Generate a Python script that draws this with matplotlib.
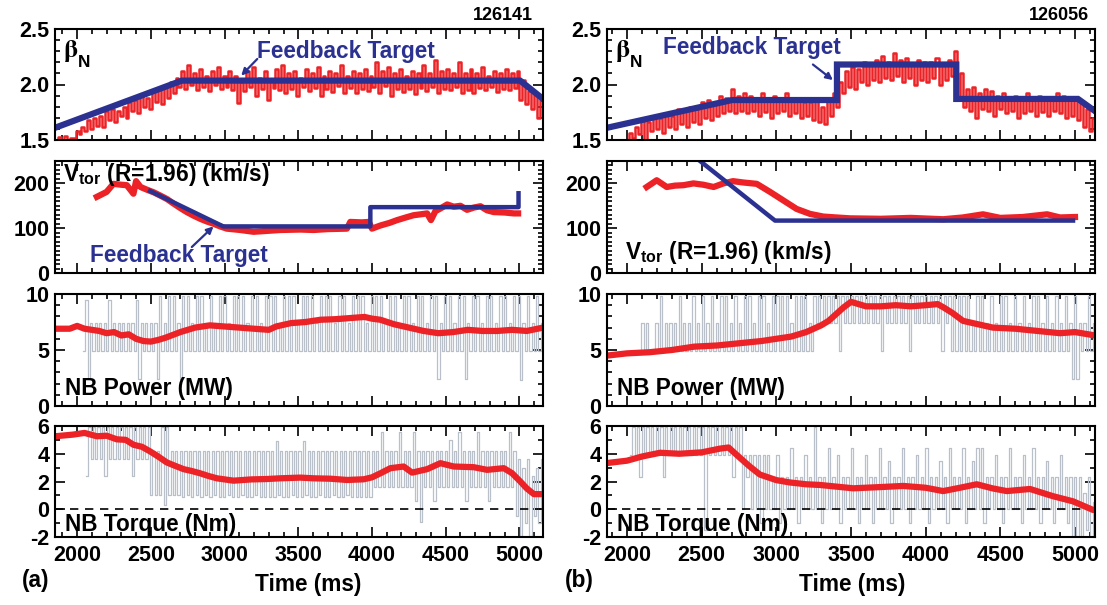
import numpy as np
import matplotlib
matplotlib.use("Agg")
import matplotlib.pyplot as plt
from matplotlib.ticker import MultipleLocator, FormatStrFormatter

plt.rcParams['font.family'] = ['Liberation Sans', 'DejaVu Sans']
plt.rcParams['font.weight'] = 'bold'
plt.rcParams['mathtext.fontset'] = 'stix'

RED = '#ec2227'
BLUE = '#2b3190'
GRAY = '#b9c0ca'
FS = 15.5      # tick labels
FT = 16.3      # panel texts

# ---------------- data: shot 126141 (a) ----------------
xlim_a = (1850, 5160)
# beta_N: per 40 ms bin, low and high excursion of the raw signal
bn_span_a = (1850, 5160)
bn_lo_a = [1.49, 1.48, 1.50, 1.52, 1.55, 1.58, 1.60, 1.63, 1.62, 1.68,
           1.66, 1.72, 1.70, 1.76, 1.74, 1.80, 1.78, 1.84, 1.82, 1.88,
           1.92, 1.98, 1.96, 2.00, 1.95, 1.98, 1.94, 2.00, 1.96, 1.98,
           1.95, 1.83, 1.94, 1.98, 1.90, 1.96, 1.86, 1.97, 1.95, 1.92,
           1.96, 1.90, 1.98, 1.94, 1.97, 1.90, 1.96, 1.93, 1.99, 1.92,
           1.97, 1.92, 1.96, 1.94, 1.98, 1.92, 1.99, 1.90, 1.96, 1.93,
           1.96, 1.91, 1.97, 1.94, 1.98, 1.92, 1.96, 1.95, 1.98, 1.92,
           1.95, 1.92, 1.97, 1.95, 1.98, 1.93, 1.96, 1.95, 1.97, 1.86,
           1.82, 1.78, 1.70]
bn_hi_a = [1.53, 1.54, 1.52, 1.58, 1.62, 1.68, 1.70, 1.72, 1.76, 1.78,
           1.76, 1.80, 1.84, 1.86, 1.90, 1.88, 1.94, 1.96, 2.00, 2.02,
           2.06, 2.12, 2.18, 2.10, 2.14, 2.08, 2.12, 2.16, 2.08, 2.12,
           2.08, 2.02, 2.12, 2.16, 2.06, 2.12, 2.04, 2.14, 2.18, 2.10,
           2.12, 2.06, 2.14, 2.10, 2.16, 2.08, 2.12, 2.10, 2.18, 2.08,
           2.12, 2.10, 2.14, 2.08, 2.20, 2.12, 2.16, 2.10, 2.14, 2.08,
           2.12, 2.10, 2.18, 2.10, 2.22, 2.12, 2.14, 2.10, 2.20, 2.10,
           2.14, 2.10, 2.16, 2.08, 2.12, 2.10, 2.14, 2.10, 2.12, 2.04,
           1.94, 1.92, 1.86]
bn_tgt_t_a = [1850, 2710, 5005, 5160]
bn_tgt_a = [1.61, 2.035, 2.035, 1.87]

vt_t_a = [2134, 2200, 2246, 2300, 2337, 2382, 2400, 2430, 2473, 2520, 2563, 2610, 2654, 2700,
          2744, 2790, 2835, 2880, 2925, 2970, 3016, 3107, 3197, 3288, 3378, 3514, 3604, 3700,
          3830, 3853, 3930, 3978, 4000, 4057, 4120, 4170, 4230, 4283, 4330, 4374, 4400, 4430,
          4464, 4510, 4555, 4600, 4645, 4690, 4736, 4780, 4826, 4900, 4962, 4991]
vt_a = [170, 181, 199, 197, 196, 177, 205, 192, 186, 180, 173, 165, 155, 145, 136, 128, 121,
        115, 110, 104, 99, 96, 92, 94, 96, 97, 96, 98, 99, 114, 113, 114, 99, 106, 112, 118,
        124, 129, 131, 133, 118, 138, 144, 153, 148, 150, 141, 146, 149, 140, 136, 135, 133, 133]
vt_tgt_t_a = [2495, 2991, 3989, 3989, 4994, 4994]
vt_tgt_a = [183, 104, 104, 147, 147, 178]

pw_t_a = [1850, 1950, 2000, 2050, 2150, 2200, 2250, 2300, 2350, 2400, 2450, 2500, 2550, 2600,
          2700, 2800, 2900, 3000, 3100, 3200, 3300, 3350, 3450, 3550, 3650, 3750, 3850, 3950,
          4000, 4057, 4150, 4250, 4350, 4450, 4550, 4650, 4750, 4850, 4950, 5050, 5160]
pw_a = [6.9, 6.9, 7.15, 6.9, 6.7, 6.5, 6.6, 6.3, 6.4, 6.0, 5.8, 5.75, 5.9, 6.1, 6.6, 7.0,
        7.2, 7.1, 7.0, 6.9, 6.8, 7.1, 7.4, 7.5, 7.7, 7.75, 7.85, 7.95, 7.8, 7.7, 7.3, 7.0,
        6.7, 6.5, 6.6, 6.8, 6.7, 6.7, 6.8, 6.7, 7.0]
# raw NB power: per bin, lowest and highest beam level reached
pw_span_a = (2040, 5160)
pw_hi_a = [9.5, 7.4, 7.4, 7.4, 7.4, 9.5, 7.4, 7.4, 7.4, 7.4,
           7.4, 9.5, 7.4, 7.4, 7.4, 7.4, 9.8, 7.4, 9.8, 9.8,
           7.4, 9.8, 9.8, 7.4, 9.8, 9.8, 7.4, 9.8, 7.4, 9.8,
           9.8, 7.4, 9.8, 9.8, 9.8, 7.4, 9.8, 9.8, 7.4, 9.8,
           9.8, 9.8, 7.4, 9.8, 9.8, 9.8, 7.4, 9.8, 9.8, 9.8,
           7.4, 9.8, 9.8, 9.8, 7.4, 9.8, 9.8, 7.4, 9.8, 9.8,
           9.8, 7.4, 9.8, 9.8, 9.8, 7.4, 9.8, 9.8, 7.4, 9.8,
           9.8, 7.4, 9.8, 9.8, 7.4, 9.8, 9.8, 7.4, 9.8, 9.8,
           7.4, 9.8, 9.8, 7.4, 9.8, 9.8, 7.4, 9.8, 9.8, 7.4,
           9.8, 9.8, 7.4, 9.8, 9.8, 7.4, 9.8, 7.4, 9.8, 7.4]
pw_lo_a = [4.9, 2.4, 4.9, 4.9, 4.9, 4.9, 4.9, 4.9, 4.9, 4.9,
           4.9, 4.9, 2.4, 4.9, 4.9, 4.9, 2.4, 4.9, 4.9, 4.9,
           4.9, 2.4, 4.9, 4.9, 4.9, 4.9, 4.9, 4.9, 4.9, 4.9,
           4.9, 4.9, 4.9, 4.9, 4.9, 4.9, 4.9, 4.9, 4.9, 4.9,
           4.9, 4.9, 4.9, 4.9, 4.9, 4.9, 4.9, 4.9, 4.9, 4.9,
           4.9, 4.9, 4.9, 4.9, 4.9, 4.9, 4.9, 4.9, 4.9, 4.9,
           4.9, 4.9, 4.9, 4.9, 4.9, 4.9, 4.9, 4.9, 4.9, 4.9,
           4.9, 4.9, 4.9, 4.9, 4.9, 4.9, 4.9, 2.4, 4.9, 4.9,
           4.9, 4.9, 4.9, 2.4, 4.9, 4.9, 4.9, 4.9, 4.9, 4.9,
           4.9, 4.9, 4.9, 4.9, 4.9, 2.3, 4.9, 4.9, 4.9, 4.9]

tq_t_a = [1851, 1973, 2050, 2134, 2200, 2269, 2330, 2382, 2440, 2495, 2550, 2609, 2660, 2722,
          2780, 2835, 2890, 2948, 3061, 3180, 3288, 3378, 3514, 3604, 3720, 3831, 3944, 4000,
          4057, 4125, 4215, 4272, 4374, 4464, 4555, 4691, 4781, 4894, 4950, 5007, 5050, 5098, 5160]
tq_a = [5.26, 5.38, 5.5, 5.26, 5.3, 5.04, 5.0, 4.65, 4.5, 4.17, 3.8, 3.37, 3.15, 2.89,
        2.75, 2.59, 2.4, 2.23, 2.06, 2.15, 2.18, 2.23, 2.28, 2.23, 2.2, 2.11, 2.16, 2.3,
        2.59, 2.96, 3.08, 2.64, 2.89, 3.32, 3.08, 3.03, 2.84, 2.96, 2.6, 1.99, 1.5, 1.09, 1.09]
tq_span_a = (2060, 5160)
tq_hi_a = [5.9, 5.9, 5.9, 5.9, 5.9, 5.9, 5.9, 5.9, 5.9, 5.9,
           5.9, 5.9, 5.9, 5.9, 4.2, 4.2, 5.9, 5.9, 4.2, 4.2,
           4.2, 4.2, 4.2, 4.2, 4.2, 4.2, 4.2, 4.2, 4.2, 4.2,
           4.2, 4.2, 4.2, 4.2, 4.2, 4.2, 4.2, 4.2, 4.2, 4.2,
           4.2, 4.9, 4.2, 4.2, 4.2, 4.2, 4.2, 4.9, 4.2, 4.2,
           4.2, 4.2, 4.2, 4.2, 4.2, 4.2, 4.2, 4.2, 4.2, 4.2,
           4.2, 4.2, 4.2, 4.2, 5.6, 4.2, 4.2, 4.2, 5.6, 4.2,
           4.2, 5.6, 4.2, 4.2, 4.2, 4.2, 4.2, 4.2, 4.2, 5.0,
           4.2, 5.6, 4.2, 4.2, 4.2, 5.6, 4.2, 4.2, 4.2, 4.2,
           4.2, 4.2, 5.6, 4.2, 3.6, 3.0, 3.6, 2.4, 3.0, 3.6]
tq_lo_a = [2.4, 3.6, 3.6, 3.6, 2.4, 3.6, 3.6, 3.6, 3.6, 3.6,
           2.4, 3.6, 3.6, 3.6, 1.0, 1.0, 1.0, 0.3, 1.0, 1.0,
           1.0, 0.9, 1.0, 0.9, 1.0, 0.9, 1.0, 0.9, 1.0, 0.9,
           0.9, 1.0, 0.9, 0.9, 1.0, 0.9, 0.9, 1.0, 0.9, 0.9,
           0.9, 0.9, 1.0, 0.9, 0.9, 1.0, 0.9, 0.9, 1.0, 0.9,
           0.9, 1.0, 0.9, 0.9, 1.0, 0.9, 0.9, 1.0, 0.9, 0.9,
           0.9, 0.9, 0.9, 1.6, 1.6, 1.6, 1.6, 1.6, 1.6, 1.6,
           1.6, 1.6, 0.6, -0.9, 1.6, 1.6, 0.6, 1.6, 1.6, 1.6,
           1.6, 1.6, 1.6, 0.6, 1.6, 1.6, 1.6, 1.6, 0.6, 1.6,
           1.6, 1.6, 1.6, 1.6, -0.5, -1.9, -1.0, -1.9, -0.5, -1.0]

# ---------------- data: shot 126056 (b) ----------------
xlim_b = (1866, 5134)
bn_span_b = (1990, 5134)
bn_lo_b = [1.50, 1.52, 1.55, 1.50, 1.58, 1.60, 1.56, 1.62, 1.60, 1.64,
           1.62, 1.66, 1.64, 1.70, 1.68, 1.72, 1.74, 1.76, 1.74, 1.76,
           1.74, 1.76, 1.72, 1.75, 1.70, 1.74, 1.76, 1.72, 1.74, 1.70,
           1.72, 1.68, 1.66, 1.64, 1.72, 1.80, 1.92, 1.98, 1.96, 2.02,
           2.00, 2.04, 2.02, 2.06, 2.04, 2.08, 2.02, 2.06, 2.00, 2.04,
           2.02, 2.06, 2.00, 2.04, 2.08, 1.88, 1.80, 1.76, 1.70, 1.78,
           1.76, 1.72, 1.78, 1.74, 1.76, 1.70, 1.74, 1.76, 1.72, 1.75,
           1.72, 1.76, 1.74, 1.70, 1.72, 1.68, 1.62, 1.58]
bn_hi_b = [1.56, 1.62, 1.68, 1.66, 1.72, 1.70, 1.74, 1.72, 1.78, 1.76,
           1.80, 1.78, 1.84, 1.86, 1.82, 1.90, 1.88, 1.96, 1.90, 1.92,
           1.90, 1.88, 1.92, 1.86, 1.90, 1.88, 1.92, 1.86, 1.88, 1.84,
           1.84, 1.86, 1.80, 1.86, 1.92, 2.02, 2.12, 2.16, 2.14, 2.20,
           2.18, 2.22, 2.26, 2.20, 2.28, 2.22, 2.24, 2.18, 2.22, 2.20,
           2.20, 2.24, 2.18, 2.22, 2.30, 2.10, 1.96, 1.98, 1.92, 1.96,
           1.94, 1.90, 1.92, 1.88, 1.90, 1.86, 1.92, 1.88, 1.90, 1.86,
           1.88, 1.92, 1.90, 1.86, 1.88, 1.84, 1.78, 1.70]
bn_tgt_t_b = [1866, 2703, 3406, 3406, 4205, 4205, 5020, 5134]
bn_tgt_b = [1.61, 1.86, 1.86, 2.18, 2.18, 1.87, 1.87, 1.76]

vt_t_b = [2132, 2199, 2266, 2320, 2378, 2445, 2512, 2580, 2646, 2710, 2779, 2869, 2958, 3047,
          3136, 3225, 3314, 3400, 3493, 3700, 3900, 4117, 4250, 4384, 4500, 4650, 4813, 4900, 5000]
vt_b = [192, 207, 192, 195, 196, 200, 197, 192, 200, 205, 202, 199, 181, 162, 143, 132, 126,
        124, 122, 121, 123, 120, 124, 131, 123, 125, 131, 124, 125]
vt_tgt_t_b = [2489, 2991, 4987]
vt_tgt_b = [250, 117, 117]

pw_t_b = [1866, 2000, 2150, 2300, 2450, 2600, 2750, 2900, 3000, 3100, 3200, 3300, 3350, 3400,
          3450, 3500, 3600, 3700, 3800, 3900, 4000, 4080, 4120, 4180, 4250, 4350, 4450, 4600,
          4750, 4900, 5000, 5134]
pw_b = [4.5, 4.7, 4.8, 5.0, 5.3, 5.4, 5.6, 5.8, 6.0, 6.2, 6.6, 7.2, 7.6, 8.2, 8.8, 9.3,
        8.9, 8.9, 9.0, 8.9, 9.0, 9.1, 8.8, 8.3, 7.6, 7.3, 7.0, 6.9, 6.7, 6.5, 6.6, 6.3]
pw_span_b = (2080, 5134)
pw_hi_b = [7.4, 7.4, 4.9, 7.4, 9.8, 7.4, 7.4, 7.4, 9.8, 7.4,
           7.4, 9.8, 7.4, 9.8, 7.4, 9.8, 7.4, 9.8, 9.8, 7.4,
           9.8, 7.4, 9.8, 9.8, 7.4, 9.8, 9.8, 7.4, 9.8, 9.8,
           9.8, 9.8, 7.4, 9.8, 9.8, 9.8, 7.4, 9.8, 9.8, 9.8,
           9.8, 9.8, 9.8, 9.8, 9.8, 9.8, 9.8, 9.8, 9.8, 9.8,
           9.8, 9.8, 9.8, 9.8, 9.8, 9.8, 9.8, 9.8, 9.8, 9.8,
           9.8, 9.8, 9.8, 9.8, 9.8, 9.8, 9.8, 9.8, 9.8, 9.8,
           9.8, 7.4, 9.8, 9.8, 7.4, 9.8, 7.4, 9.8, 9.8, 7.4,
           9.8, 7.4, 9.8, 7.4, 9.8, 9.8, 7.4, 9.8, 7.4, 9.8,
           7.4, 9.8, 7.4, 9.8, 7.4, 7.4, 9.8, 7.4]
pw_lo_b = [4.9, 4.9, 4.9, 4.9, 4.9, 4.9, 4.9, 4.9, 4.9, 4.9,
           4.9, 4.9, 4.9, 4.9, 4.9, 4.9, 4.9, 4.9, 4.9, 4.9,
           4.9, 4.9, 4.9, 4.9, 4.9, 4.9, 4.9, 4.9, 4.9, 4.9,
           4.9, 4.9, 4.9, 4.9, 4.9, 4.9, 4.9, 4.9, 7.4, 7.4,
           7.4, 7.4, 7.4, 4.9, 7.4, 7.4, 7.4, 7.4, 7.4, 7.4,
           7.4, 7.4, 4.9, 7.4, 7.4, 7.4, 7.4, 7.4, 4.9, 7.4,
           7.4, 7.4, 7.4, 7.4, 7.4, 4.9, 7.4, 4.9, 4.9, 4.9,
           4.9, 4.9, 4.9, 4.9, 4.9, 4.9, 4.9, 4.9, 4.9, 4.9,
           4.9, 4.9, 4.9, 4.9, 4.9, 4.9, 4.9, 4.9, 4.9, 4.9,
           4.9, 4.9, 4.9, 2.4, 2.4, 4.9, 4.9, 4.9]

tq_t_b = [1866, 2000, 2100, 2221, 2350, 2500, 2623, 2680, 2757, 2820, 2890, 3000, 3091, 3200,
          3292, 3515, 3700, 3850, 4000, 4117, 4230, 4342, 4450, 4543, 4699, 4853, 4987, 5121, 5134]
tq_b = [3.33, 3.5, 3.8, 4.07, 4.0, 4.1, 4.37, 4.45, 3.7, 3.1, 2.5, 2.1, 1.93, 1.8,
        1.75, 1.51, 1.6, 1.68, 1.55, 1.31, 1.55, 1.8, 1.5, 1.31, 1.46, 0.94, 0.57, -0.05, -0.05]
tq_span_b = (2020, 5134)
tq_hi_b = [5.9, 5.9, 5.9, 5.9, 5.9, 5.9, 5.9, 5.9, 5.9, 5.9,
           5.9, 5.9, 5.9, 5.9, 5.9, 5.9, 5.9, 5.9, 5.9, 5.9,
           5.9, 5.9, 5.9, 5.9, 3.9, 3.9, 3.9, 3.9, 3.9, 3.9,
           2.3, 3.9, 2.3, 2.3, 4.4, 2.3, 2.3, 3.9, 2.3, 5.9,
           2.3, 2.3, 4.4, 2.3, 3.9, 2.3, 2.3, 4.4, 2.3, 2.3,
           3.9, 2.3, 2.3, 4.4, 2.3, 3.5, 2.3, 2.3, 4.4, 2.3,
           2.3, 3.9, 2.3, 4.4, 2.3, 2.3, 3.5, 2.3, 4.4, 2.3,
           2.3, 4.4, 2.3, 3.5, 4.4, 4.4, 2.3, 2.3, 3.9, 2.3,
           2.3, 4.4, 2.3, 2.3, 3.9, 2.3, 4.4, 2.3, 2.3, 3.5,
           2.3, 2.3, 3.9, 2.3, 2.3, 2.3, 2.3, 1.2, 2.3, 0.5]
tq_lo_b = [3.9, 3.9, 2.3, 3.9, 3.9, 3.9, 3.9, 2.3, 3.9, 3.9,
           3.9, 3.9, 3.9, 3.9, 3.9, 3.9, -1.5, 3.9, 3.9, 3.9,
           3.9, 3.9, 2.3, 3.9, 0.0, 2.3, 0.0, 0.0, -1.0, 0.0,
           0.0, 0.0, -1.0, 0.0, 0.0, 0.0, -1.0, 0.0, 0.0, 0.0,
           0.0, -1.0, 0.0, 0.0, 0.0, -1.0, 0.0, 0.0, 0.0, -1.0,
           0.0, 0.0, -1.0, 0.0, 0.0, 0.0, -1.0, 0.0, 0.0, 0.0,
           -1.0, 0.0, 0.0, 0.0, -1.0, 0.0, 0.0, 0.0, -1.0, 0.0,
           0.0, 0.0, -1.0, 0.0, 0.0, 0.0, -1.0, 0.0, 0.0, 0.0,
           -1.0, 0.0, 0.0, 0.0, -1.0, 0.0, 0.0, 0.0, -1.0, 0.0,
           0.0, -1.0, 0.0, 0.0, -1.0, -2.0, -2.0, -2.0, -1.5, -2.0]


def zigzag(span, hi, lo):
    # trace each bin through its low and high level, like the raw square-wave signal
    edges = np.linspace(span[0], span[1], len(hi) + 1)
    t, y = [], []
    for k in range(len(hi)):
        a, b = edges[k], edges[k + 1]
        m = 0.5 * (a + b)
        t += [a, m, m, b]
        y += [lo[k], lo[k], hi[k], hi[k]]
    return t, y


def style_axis(ax, xlim, ylim, ymaj, ymin, fmt, bottom):
    ax.set_xlim(xlim)
    ax.set_ylim(ylim)
    ax.xaxis.set_major_locator(MultipleLocator(500))
    ax.xaxis.set_minor_locator(MultipleLocator(100))
    ax.yaxis.set_major_locator(MultipleLocator(ymaj))
    ax.yaxis.set_minor_locator(MultipleLocator(ymin))
    ax.yaxis.set_major_formatter(FormatStrFormatter(fmt))
    ax.tick_params(which='both', direction='in', top=True, right=True, width=1.2,
                   labelsize=FS)
    ax.tick_params(which='major', length=7, pad=4)
    ax.tick_params(which='minor', length=3.5)
    ax.tick_params(axis='x', labelbottom=bottom, pad=6)
    for s in ax.spines.values():
        s.set_linewidth(1.5)


fig = plt.figure(figsize=(11.07, 6.05), dpi=100)
rows_px = [(29, 140), (161, 273), (294, 406), (426, 537)]
cols_px = [(55, 543), (607, 1095)]


def make_ax(r, c):
    t, b = rows_px[r]
    l, rr = cols_px[c]
    return fig.add_axes([l / 1107, 1 - b / 605, (rr - l) / 1107, (b - t) / 605])


panels = [
    dict(xlim=xlim_a, bn_s=bn_span_a, bn_hi=bn_hi_a, bn_lo=bn_lo_a, bn_tt=bn_tgt_t_a,
         bn_tg=bn_tgt_a, vt_t=vt_t_a, vt=vt_a, vt_tt=vt_tgt_t_a, vt_tg=vt_tgt_a,
         pw_t=pw_t_a, pw=pw_a, pw_s=pw_span_a, pw_hi=pw_hi_a, pw_lo=pw_lo_a,
         tq_t=tq_t_a, tq=tq_a, tq_s=tq_span_a, tq_hi=tq_hi_a, tq_lo=tq_lo_a),
    dict(xlim=xlim_b, bn_s=bn_span_b, bn_hi=bn_hi_b, bn_lo=bn_lo_b, bn_tt=bn_tgt_t_b,
         bn_tg=bn_tgt_b, vt_t=vt_t_b, vt=vt_b, vt_tt=vt_tgt_t_b, vt_tg=vt_tgt_b,
         pw_t=pw_t_b, pw=pw_b, pw_s=pw_span_b, pw_hi=pw_hi_b, pw_lo=pw_lo_b,
         tq_t=tq_t_b, tq=tq_b, tq_s=tq_span_b, tq_hi=tq_hi_b, tq_lo=tq_lo_b),
]

axes = {}
for c, p in enumerate(panels):
    # beta_N
    ax = make_ax(0, c)
    ax.plot(*zigzag(p['bn_s'], p['bn_hi'], p['bn_lo']), color=RED, lw=1.8)
    ax.plot(p['bn_tt'], p['bn_tg'], color=BLUE, lw=4.5, solid_joinstyle='miter')
    style_axis(ax, p['xlim'], (1.5, 2.5), 0.5, 0.1, '%.1f', False)
    ax.text(0.016, 0.80, r'$\mathrm{\beta}$', transform=ax.transAxes, fontsize=FT + 2,
            ha='left', va='center')
    ax.text(0.046, 0.70, 'N', transform=ax.transAxes, fontsize=FT - 4, ha='left', va='center')
    axes[(0, c)] = ax

    # toroidal rotation
    ax = make_ax(1, c)
    ax.plot(p['vt_t'], p['vt'], color=RED, lw=4.5)
    ax.plot(p['vt_tt'], p['vt_tg'], color=BLUE, lw=3.2)
    style_axis(ax, p['xlim'], (0, 250), 100, 10, '%d', False)
    axes[(1, c)] = ax

    # NB power
    ax = make_ax(2, c)
    ax.plot(*zigzag(p['pw_s'], p['pw_hi'], p['pw_lo']), color=GRAY, lw=0.9)
    ax.plot(p['pw_t'], p['pw'], color=RED, lw=4.5)
    style_axis(ax, p['xlim'], (0, 10), 5, 1, '%d', False)
    ax.text(0.02, 0.16, 'NB Power (MW)', transform=ax.transAxes, fontsize=FT,
            ha='left', va='center')
    axes[(2, c)] = ax

    # NB torque
    ax = make_ax(3, c)
    ax.plot(*zigzag(p['tq_s'], p['tq_hi'], p['tq_lo']), color=GRAY, lw=0.9)
    ax.axhline(0, color='black', lw=1.2, ls=(0, (5, 4)))
    ax.plot(p['tq_t'], p['tq'], color=RED, lw=4.5)
    style_axis(ax, p['xlim'], (-2, 6), 2, 1, '%d', True)
    ax.text(0.02, 0.11, 'NB Torque (Nm)', transform=ax.transAxes, fontsize=FT,
            ha='left', va='center')
    axes[(3, c)] = ax

vlabel = r'V$_\mathregular{tor}$ (R=1.96) (km/s)'
axes[(1, 0)].text(0.016, 0.875, vlabel, transform=axes[(1, 0)].transAxes, fontsize=FT,
                  ha='left', va='center')
axes[(1, 1)].text(0.037, 0.18, vlabel, transform=axes[(1, 1)].transAxes, fontsize=FT,
                  ha='left', va='center')

# feedback target annotations
arrow = dict(arrowstyle='-|>', color=BLUE, lw=1.6, mutation_scale=10, shrinkA=0, shrinkB=0)
ax = axes[(0, 0)]
ax.text(3222, 2.30, 'Feedback Target', color=BLUE, fontsize=FT, ha='left', va='center')
ax.annotate('', xy=(3113, 2.08), xytext=(3222, 2.23), arrowprops=arrow)
ax = axes[(0, 1)]
ax.text(2241, 2.33, 'Feedback Target', color=BLUE, fontsize=FT, ha='left', va='center')
ax.annotate('', xy=(3379, 2.04), xytext=(3245, 2.18), arrowprops=arrow)
ax = axes[(1, 0)]
ax.text(2088, 40, 'Feedback Target', color=BLUE, fontsize=FT, ha='left', va='center')
ax.annotate('', xy=(2925, 104), xytext=(2778, 58), arrowprops=arrow)

fig.text(533 / 1107, 1 - 15 / 605, '126141', fontsize=13, ha='right', va='center')
fig.text(1089 / 1107, 1 - 15 / 605, '126056', fontsize=13, ha='right', va='center')
fig.text(22 / 1107, 1 - 580 / 605, '(a)', fontsize=FT, ha='left', va='center')
fig.text(565 / 1107, 1 - 580 / 605, '(b)', fontsize=FT, ha='left', va='center')
fig.text(308 / 1107, 1 - 585 / 605, 'Time (ms)', fontsize=FT, ha='center', va='center')
fig.text(852 / 1107, 1 - 585 / 605, 'Time (ms)', fontsize=FT, ha='center', va='center')

fig.savefig('out.png', dpi=100)
